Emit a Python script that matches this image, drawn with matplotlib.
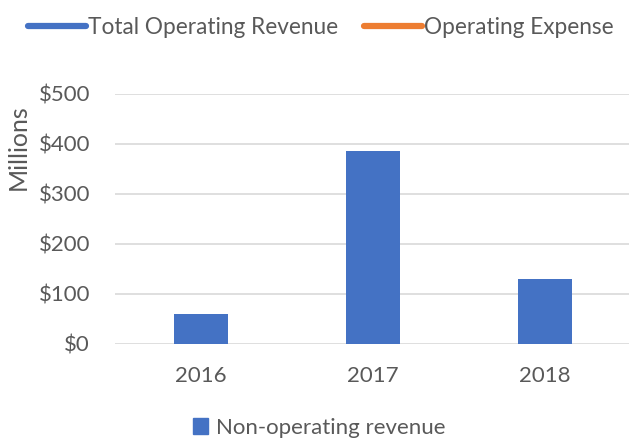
import matplotlib
matplotlib.use("Agg")
import matplotlib.pyplot as plt
from matplotlib.lines import Line2D
from matplotlib.patches import Patch

years = ["2016", "2017", "2018"]
non_operating = [59, 386, 129]
yticks = [0, 100, 200, 300, 400, 500]
ytick_labels = ["$0", "$100", "$200", "$300", "$400", "$500"]

blue = "#4472C4"
orange = "#ED7D31"
grey = "#595959"

plt.rcParams["font.family"] = ["Lato", "DejaVu Sans"]

fig = plt.figure(figsize=(6.29, 4.43), dpi=100)
ax = fig.add_axes([115 / 629, 1 - 343.5 / 443, 514 / 629, 249.5 / 443])

x = range(len(years))
ax.bar(x, non_operating, width=0.315, color=blue, zorder=3)

ax.set_xlim(-0.5, 2.49)
ax.set_ylim(0, 500)
ax.set_xticks(list(x))
ax.set_xticklabels(years)
ax.set_yticks(yticks)
ax.set_yticklabels(ytick_labels)
ax.tick_params(axis="both", length=0, labelsize=16, colors=grey)
ax.tick_params(axis="x", pad=16)
ax.tick_params(axis="y", pad=18)
ax.grid(axis="y", color="#D9D9D9", linewidth=1.2, zorder=0)
for s in ax.spines.values():
    s.set_visible(False)

# "Millions" sits to the left, upper part of the axis
ax.set_ylabel("Millions", fontsize=18, color=grey)
ax.yaxis.set_label_coords((30 - 115) / 514, (343.5 - 147) / 249.5)

# top legend (line series)
top_handles = [Line2D([0], [0], color=blue, lw=4.5, solid_capstyle="round"),
               Line2D([0], [0], color=orange, lw=4.5, solid_capstyle="round")]
fig.legend(top_handles, ["Total Operating Revenue", "Operating Expense"],
           loc="center left", bbox_to_anchor=(28 / 629, 1 - 27 / 443),
           ncol=2, frameon=False, fontsize=16.3, handlelength=2.55,
           handletextpad=0.1, columnspacing=1.15, borderaxespad=0,
           borderpad=0, labelcolor=grey)

# bottom legend (bar series)
fig.legend([Patch(color=blue)], ["Non-operating revenue"],
           loc="center", bbox_to_anchor=(319 / 629, 1 - 428 / 443),
           frameon=False, fontsize=16, handlelength=0.7, handleheight=0.7,
           handletextpad=0.35, borderpad=0, labelcolor=grey)

fig.savefig("out.png", dpi=100)
